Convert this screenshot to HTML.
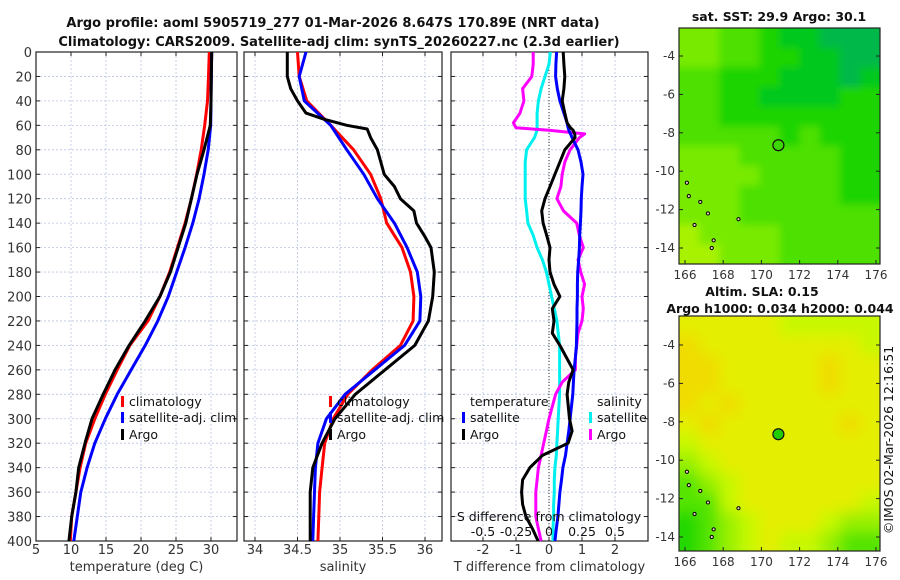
<!DOCTYPE html>
<html><head><meta charset="utf-8"><style>
body{margin:0;background:#fff;}
svg{display:block;font-family:"DejaVu Sans","Liberation Sans",sans-serif;}
</style></head><body>
<svg id="c" width="900" height="580" viewBox="0 0 900 580" xmlns="http://www.w3.org/2000/svg">
<defs>
<clipPath id="cp1"><rect x="36" y="52" width="201" height="489"/></clipPath>
<clipPath id="cp2"><rect x="244" y="52" width="198" height="489"/></clipPath>
<clipPath id="cp3"><rect x="451" y="52" width="197" height="489"/></clipPath>
<clipPath id="cpm1"><rect x="679" y="28" width="201" height="236"/></clipPath>
<clipPath id="cpm2"><rect x="679" y="316" width="201" height="235"/></clipPath>
<filter id="blur"><feGaussianBlur stdDeviation="7"/></filter>
<filter id="blurs"><feGaussianBlur stdDeviation="4"/></filter>
</defs>
<g id="root"></g>
</svg>
<script>
// ---- data ----
const depths=[0,20,40,60,80,100,120,140,160,180,200,220,240,260,280,300,320,340,360,380,400];
const tempClim=[29.76,29.65,29.5,29.1,28.6,27.95,27.2,26.3,25.2,24.1,22.7,21.0,18.4,16.6,14.9,13.4,12.1,11.3,10.7,10.1,9.9];
const tempSat=[30.1,30.05,30.0,29.95,29.6,29.0,28.3,27.4,26.3,25.1,23.9,22.4,20.6,18.6,16.6,14.9,13.4,12.3,11.4,10.9,10.4];
const tempArgo=[30.1,30.05,30.0,29.9,29.0,28.0,27.2,26.4,25.3,24.2,22.7,20.6,18.3,16.3,14.6,13.0,12.0,11.1,10.7,10.1,9.7];
const salClim=[34.50,34.52,34.61,34.89,35.16,35.36,35.48,35.55,35.73,35.83,35.87,35.86,35.71,35.38,35.09,34.92,34.82,34.79,34.76,34.75,34.74];
const salSat=[34.60,34.52,34.58,34.89,35.08,35.28,35.44,35.64,35.79,35.91,35.95,35.94,35.76,35.41,35.06,34.84,34.74,34.71,34.70,34.69,34.68];
const argoDepths=[0,10,20,30,40,50,55,60,63,70,80,90,100,110,120,130,140,150,160,180,200,220,240,260,280,300,320,340,360,380,400];
const salArgo=[34.38,34.38,34.38,34.42,34.50,34.60,34.81,35.08,35.32,35.36,35.44,35.48,35.52,35.64,35.71,35.87,35.90,35.99,36.07,36.11,36.09,36.04,35.88,35.53,35.18,34.94,34.79,34.68,34.65,34.65,34.65];
const dDepths=[0,10,20,30,40,50,58,62,64,67,70,80,90,100,110,120,130,140,150,160,170,180,190,200,210,220,230,240,250,260,270,280,300,310,320,330,340,350,360,370,380,390,400];
const tDiffSat=[0.23,0.21,0.2,0.25,0.33,0.45,0.55,0.58,0.6,0.65,0.7,0.88,0.97,1.03,1.0,0.98,0.97,0.95,0.93,0.92,0.9,0.87,0.86,0.86,0.85,0.85,0.84,0.83,0.8,0.76,0.74,0.72,0.64,0.6,0.55,0.5,0.42,0.38,0.33,0.3,0.27,0.22,0.18];
const tDiffArgo=[0.43,0.45,0.48,0.45,0.4,0.48,0.55,0.65,0.73,0.78,0.79,0.48,0.33,0.18,0.03,-0.12,-0.22,-0.18,-0.07,0.03,0.0,0.03,0.15,0.33,0.1,0.15,0.1,0.33,0.53,0.73,0.6,0.55,0.62,0.7,0.58,-0.2,-0.58,-0.8,-0.83,-0.8,-0.7,-0.5,-0.33];
const sDiffSat=[0.01,0.0,-0.03,-0.06,-0.08,-0.09,-0.09,-0.09,-0.09,-0.1,-0.11,-0.17,-0.18,-0.18,-0.18,-0.18,-0.17,-0.16,-0.12,-0.09,-0.05,-0.02,0.0,0.02,0.04,0.06,0.07,0.08,0.08,0.08,0.08,0.08,0.07,0.065,0.06,0.055,0.045,0.04,0.04,0.035,0.035,0.03,0.03];
const sDiffArgo=[-0.12,-0.12,-0.13,-0.2,-0.19,-0.22,-0.27,-0.25,0.0,0.27,0.23,0.16,0.12,0.1,0.09,0.06,0.11,0.21,0.23,0.26,0.22,0.24,0.27,0.25,0.26,0.25,0.22,0.21,0.2,0.2,0.1,0.05,0.0,-0.02,-0.04,-0.06,-0.08,-0.09,-0.1,-0.1,-0.1,-0.08,-0.06];
const tTicks=[5,10,15,20,25,30];
const sTicks=[34,34.5,35,35.5,36];
const dTicks=[-2,-1,0,1,2];
const sdTicks=[-0.5,-0.25,0,0.25,0.5];
const sdTickLabels=["-0.5","-0.25","0","0.25","0.5"];
const yTicks=[0,20,40,60,80,100,120,140,160,180,200,220,240,260,280,300,320,340,360,380,400];
const mapXTicks=[166,168,170,172,174,176];
const mapYTicks=[-4,-6,-8,-10,-12,-14];
const sstGrid=["4433211000","4433221100","3322211101","3322111122","3322222222","3333323222","4443333322","4444333322","4443333322","4443333333","5444433333","5544433333"];
const sstColors=["#00b84a","#00c81a","#1ed400","#4ee000","#78ea00","#a8f200"];
const slaGrid=["4444433333","5444444443","5544444544","5544444544","5454444444","4544444454","3444444444","2344444444","1234444444","1134444443","0123444322","0123433211"];
const slaColors=["#22d800","#55e400","#99f000","#c8f800","#e4ee00","#f0dc00"];
const argoLon=170.89, argoLat=-8.647;

// ---- helpers ----
const NS="http://www.w3.org/2000/svg";
const root=document.getElementById('root');
function el(tag,attrs,parent,txt){const e=document.createElementNS(NS,tag);for(const k in attrs)e.setAttribute(k,attrs[k]);if(txt!==undefined)e.textContent=txt;(parent||root).appendChild(e);return e;}
const Y=d=>52+d*(489/400);
const xT=t=>36+(t-5)*7;
const xS=s=>255+(s-34)*85;
const xD=v=>549+v*33;
const xSD=v=>549+v*132;
const mx=l=>685+(l-166)*19.1;
const my1=l=>56+(-4-l)*19.2;
const my2=l=>345+(-4-l)*19.2;

function panel(name,x0,w,xs,vticks,vlabels,xlabel,clip,showY){
  const g=el('g',{},root);
  
  
  const grid=el('g',{'clip-path':'url(#'+clip+')'},g);
  yTicks.forEach(d=>{el('line',{x1:x0,x2:x0+w,y1:Y(d),y2:Y(d),stroke:'#b8c4e0','stroke-width':0.8,'stroke-dasharray':'2,2'},grid);});
  vticks.forEach(v=>{el('line',{x1:xs(v),x2:xs(v),y1:52,y2:541,stroke:'#b8c4e0','stroke-width':0.8,'stroke-dasharray':'2,2'},grid);});
  el('rect',{x:x0,y:52,width:w,height:489,fill:'none',stroke:'#222','stroke-width':1.2},g);
  yTicks.forEach(d=>{el('line',{x1:x0,x2:x0+4,y1:Y(d),y2:Y(d),stroke:'#222'},g);el('line',{x1:x0+w-4,x2:x0+w,y1:Y(d),y2:Y(d),stroke:'#222'},g);
    if(showY){const t=el('text',{x:x0-4,y:Y(d)+5,'text-anchor':'end','font-size':13,fill:'#333'},g,String(d));}});
  vticks.forEach((v,i)=>{el('line',{x1:xs(v),x2:xs(v),y1:541,y2:537,stroke:'#222'},g);el('line',{x1:xs(v),x2:xs(v),y1:52,y2:56,stroke:'#222'},g);
    const t=el('text',{x:xs(v),y:554,'text-anchor':'middle','font-size':13,fill:'#333'},g,vlabels[i]);});
  const xl=el('text',{x:x0+w/2,y:571,'text-anchor':'middle','font-size':13,fill:'#333'},g,xlabel);
  
  return g;
}
function line(g,name,xs,vals,ds,color,clip){
  const pts=vals.map((v,i)=>xs(v).toFixed(1)+','+Y(ds[i]).toFixed(1)).join(' ');
  const p=el('polyline',{points:pts,fill:'none',stroke:color,'stroke-width':3,'stroke-linejoin':'round','clip-path':'url(#'+clip+')'},g);
  
}
function legendEntry(g,name,x,y,color,label){
  const lg=el('g',{},g);
  
  if(color)el('rect',{x:x,y:y-10,width:3,height:11,fill:color},lg);
  el('text',{x:x+(color?8:0),y:y,'font-size':12.5,fill:'#111'},lg,label);
}

// panel 1
const p1=panel('temperature-panel',36,201,xT,tTicks,tTicks.map(String),'temperature (deg C)','cp1',true);
line(p1,'temp-climatology-line',xT,tempClim,depths,'#ff0000','cp1');
line(p1,'temp-satellite-line',xT,tempSat,depths,'#0000ff','cp1');
line(p1,'temp-argo-line',xT,tempArgo,depths,'#000000','cp1');
legendEntry(p1,'legend-climatology',121,406,'#ff0000','climatology');
legendEntry(p1,'legend-satellite-adj',121,422,'#0000ff','satellite-adj. clim');
legendEntry(p1,'legend-argo',121,439,'#000000','Argo');

// panel 2
const p2=panel('salinity-panel',244,198,xS,sTicks,['34','34.5','35','35.5','36'],'salinity','cp2',false);
line(p2,'sal-climatology-line',xS,salClim,depths,'#ff0000','cp2');
line(p2,'sal-satellite-line',xS,salSat,depths,'#0000ff','cp2');
line(p2,'sal-argo-line',xS,salArgo,argoDepths,'#000000','cp2');
legendEntry(p2,'legend-climatology-2',329,406,'#ff0000','climatology');
legendEntry(p2,'legend-satellite-adj-2',329,422,'#0000ff','satellite-adj. clim');
legendEntry(p2,'legend-argo-2',329,439,'#000000','Argo');

// panel 3
const p3=panel('difference-panel',451,197,xD,dTicks,dTicks.map(String),'T difference from climatology','cp3',false);
el('line',{x1:xD(0),x2:xD(0),y1:52,y2:541,stroke:'#333','stroke-width':1,'stroke-dasharray':'1,2'},p3);
line(p3,'sdiff-satellite-line',xSD,sDiffSat,dDepths,'#00f0f0','cp3');
line(p3,'sdiff-argo-line',xSD,sDiffArgo,dDepths,'#ff00ff','cp3');
line(p3,'tdiff-satellite-line',xD,tDiffSat,dDepths,'#0000ff','cp3');
line(p3,'tdiff-argo-line',xD,tDiffArgo,dDepths,'#000000','cp3');
legendEntry(p3,'legend-temperature-title',470,406,null,'temperature');
legendEntry(p3,'legend-t-satellite',462,422,'#0000ff','satellite');
legendEntry(p3,'legend-t-argo',462,439,'#000000','Argo');
legendEntry(p3,'legend-salinity-title',597,406,null,'salinity');
legendEntry(p3,'legend-s-satellite',589,422,'#00f0f0','satellite');
legendEntry(p3,'legend-s-argo',589,439,'#ff00ff','Argo');
const st=el('text',{x:549,y:521,'text-anchor':'middle','font-size':12.5,fill:'#111'},p3,'S difference from climatology');

sdTicks.forEach((v,i)=>{const t=el('text',{x:xSD(v),y:536,'text-anchor':'middle','font-size':12.5,fill:'#111'},p3,sdTickLabels[i]);
  });

// maps
function map(name,y0,h,grid,colors,my,filt,clip,marker){
  const g=el('g',{},root);
  
  const cg=el('g',{'clip-path':'url(#'+clip+')'},g);
  const inner=el('g',{filter:'url(#'+filt+')'},cg);
  const rows=grid.length,cols=grid[0].length,cw=201/cols,ch=h/rows;
  const ext=12;
  grid.forEach((r,ri)=>{for(let ci=0;ci<cols;ci++){
    const x=679+ci*cw-(ci===0?ext:0), y=y0+ri*ch-(ri===0?ext:0);
    const c=el('rect',{x:x,y:y,width:cw+0.5+(ci===0||ci===cols-1?ext:0),height:ch+0.5+(ri===0||ri===rows-1?ext:0),fill:colors[+r[ci]]},inner);
    
    
  }});
  [[166.1,-10.6],[166.2,-11.3],[166.8,-11.6],[167.4,-14.0],[167.5,-13.6],[166.5,-12.8],[167.2,-12.2],[168.8,-12.5]].forEach(p=>{
    el('circle',{cx:mx(p[0]),cy:my(p[1]),r:1.6,fill:'#f0d0c0',stroke:'#000','stroke-width':1},cg);});
  el('rect',{x:679,y:y0,width:201,height:h,fill:'none',stroke:'#222','stroke-width':1.2},g);
  mapXTicks.forEach(v=>{el('line',{x1:mx(v),x2:mx(v),y1:y0+h,y2:y0+h-4,stroke:'#222'},g);
    const t=el('text',{x:mx(v),y:y0+h+15,'text-anchor':'middle','font-size':12,fill:'#333'},g,String(v));
    });
  mapYTicks.forEach(v=>{el('line',{x1:679,x2:683,y1:my(v),y2:my(v),stroke:'#222'},g);el('line',{x1:876,x2:880,y1:my(v),y2:my(v),stroke:'#222'},g);
    const t=el('text',{x:675,y:my(v)+4,'text-anchor':'end','font-size':12,fill:'#333'},g,String(v));
    });
  const m=el('circle',{cx:mx(argoLon),cy:my(argoLat),r:5.5,fill:marker,stroke:'#111','stroke-width':1.2},g);
  
  return g;
}
map('sst-map',28,236,sstGrid,sstColors,my1,'blurs','cpm1','#3cd800');
map('sla-map',316,235,slaGrid,slaColors,my2,'blur','cpm2','#22cc00');

function txt(name,x,y,s,size,bold,anchor,extra){
  const t=el('text',Object.assign({x:x,y:y,'font-size':size,'font-weight':bold?'bold':'normal','text-anchor':anchor||'middle',fill:'#111'},extra||{}),root,s);
  
}
txt('title-line-1',333,27,'Argo profile: aoml 5905719_277 01-Mar-2026 8.647S 170.89E (NRT data)',13,true);
txt('title-line-2',339,46,'Climatology: CARS2009. Satellite-adj clim: synTS_20260227.nc (2.3d earlier)',13,true);
txt('sst-map-title',779,21,'sat. SST: 29.9 Argo: 30.1',12.5,true);
txt('sla-map-title-1',762,296,'Altim. SLA: 0.15',12.5,true);
txt('sla-map-title-2',780,313,'Argo h1000: 0.034 h2000: 0.044',12.5,true);
txt('imos-timestamp',0,0,'©IMOS 02-Mar-2026 12:16:51',12.5,false,'middle',{transform:'translate(893,440) rotate(-90)'});
</script>
</body></html>
